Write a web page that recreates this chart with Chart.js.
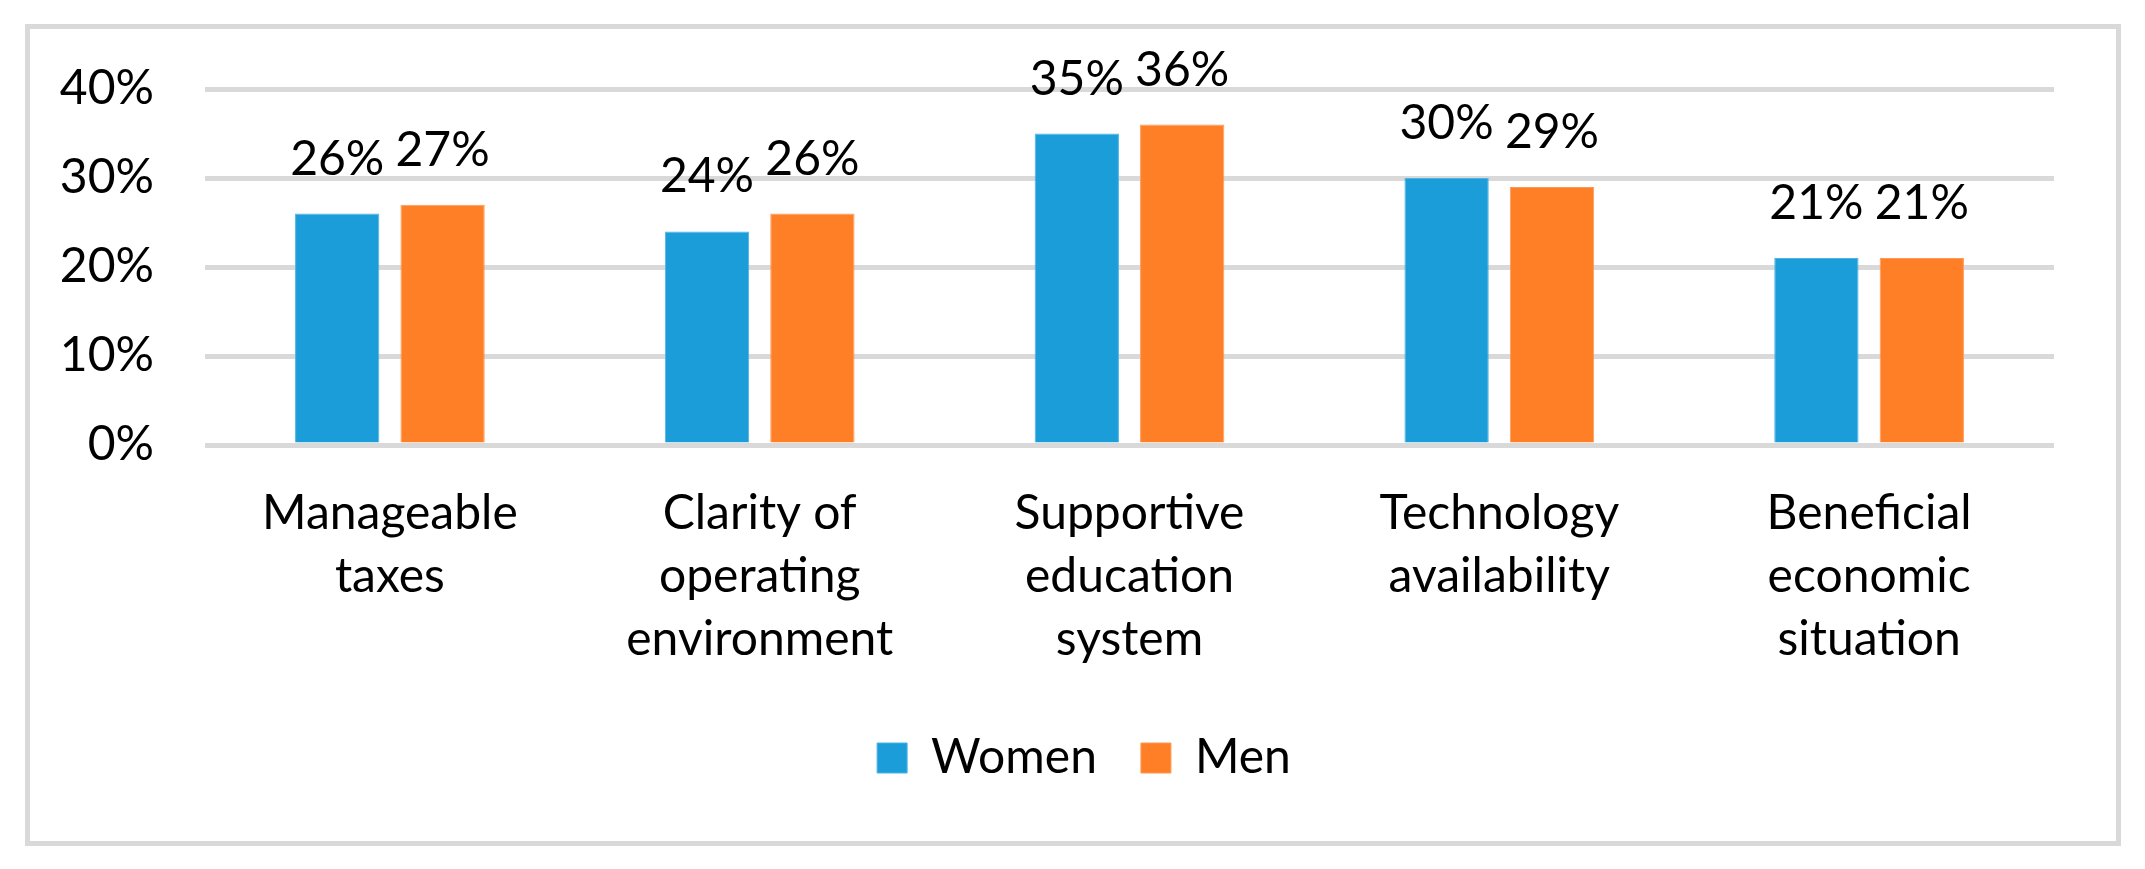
<!DOCTYPE html>
<html>
<head>
<meta charset="utf-8">
<script src="https://cdn.jsdelivr.net/npm/chart.js@4.4.0/dist/chart.umd.min.js"></script>
<style>
  body { margin: 0; background: #fff; }
  #frame {
    position: absolute; left: 25px; top: 24px;
    width: 2086px; height: 812px;
    border: 5px solid #d9d9d9;
  }
  canvas { display: block; }
</style>
</head>
<body>
<div id="frame"><canvas id="myChart" width="2086" height="812"></canvas></div>
<script>
var categories = [
    ['Manageable', 'taxes'],
    ['Clarity of', 'operating', 'environment'],
    ['Supportive', 'education', 'system'],
    ['Technology', 'availability'],
    ['Beneficial', 'economic', 'situation']
]
var women = [26, 24, 35, 30, 21]
var men = [27, 26, 36, 29, 21]
var yTicks = [0, 10, 20, 30, 40]

var font = "Lato, 'DejaVu Sans', sans-serif"

// value labels above each bar
var barLabels = {
    id: 'barLabels',
    afterDatasetsDraw(chart) {
        const c = chart.ctx
        c.save()
        c.font = '48px ' + font
        c.fillStyle = '#000'
        c.textAlign = 'center'
        c.textBaseline = 'alphabetic'
        chart.data.datasets.forEach((ds, i) => {
            chart.getDatasetMeta(i).data.forEach((bar, j) => {
                c.fillText(ds.data[j] + '%', bar.x, bar.y - 39)
            })
        })
        c.restore()
    }
}

// nudge the legend a little to the right, like the original
var legendShift = {
    id: 'legendShift',
    afterLayout(chart) {
        chart.legend.left += 42
        chart.legend.right += 42
    }
}

var ctx = document.getElementById('myChart').getContext('2d')
var myChart = new Chart(ctx, {
    type: 'bar',
    data: {
        labels: categories,
        datasets: [{
            label: 'Women',
            data: women,
            backgroundColor: '#1b9dd9',
            borderColor: '#4db3e4',
            borderWidth: 1
        }, {
            label: 'Men',
            data: men,
            backgroundColor: '#ff7f27',
            borderColor: '#ff9a55',
            borderWidth: 1
        }]
    },
    options: {
        responsive: false,
        animation: false,
        devicePixelRatio: 1,
        layout: { padding: { top: 60, right: 62, bottom: 49, left: 0 } },
        datasets: { bar: { categoryPercentage: 0.57, barPercentage: 0.8 } },
        plugins: {
            tooltip: { enabled: false },
            legend: {
                position: 'bottom',
                labels: {
                    boxWidth: 30,
                    boxHeight: 30,
                    padding: 44,
                    color: '#000',
                    font: { family: font, size: 48 }
                }
            }
        },
        scales: {
            x: {
                grid: { display: false },
                border: { display: false },
                ticks: {
                    color: '#000',
                    padding: 29,
                    maxRotation: 0,
                    font: { family: font, size: 48, lineHeight: 1.31 }
                },
                afterFit: function (scale) { scale.height = 245 }
            },
            y: {
                min: 0,
                max: 40,
                border: { display: false },
                grid: {
                    color: '#d9d9d9',
                    lineWidth: 5,
                    drawTicks: true,
                    tickLength: 51,
                    tickColor: 'rgba(0,0,0,0)'
                },
                afterBuildTicks: function (scale) {
                    scale.ticks = yTicks.map(v => ({ value: v }))
                },
                ticks: {
                    color: '#000',
                    padding: 0,
                    font: { family: font, size: 48 },
                    callback: v => v + '%'
                },
                afterFit: function (scale) { scale.width = 175 }
            }
        }
    },
    plugins: [barLabels, legendShift]
})
</script>
</body>
</html>
